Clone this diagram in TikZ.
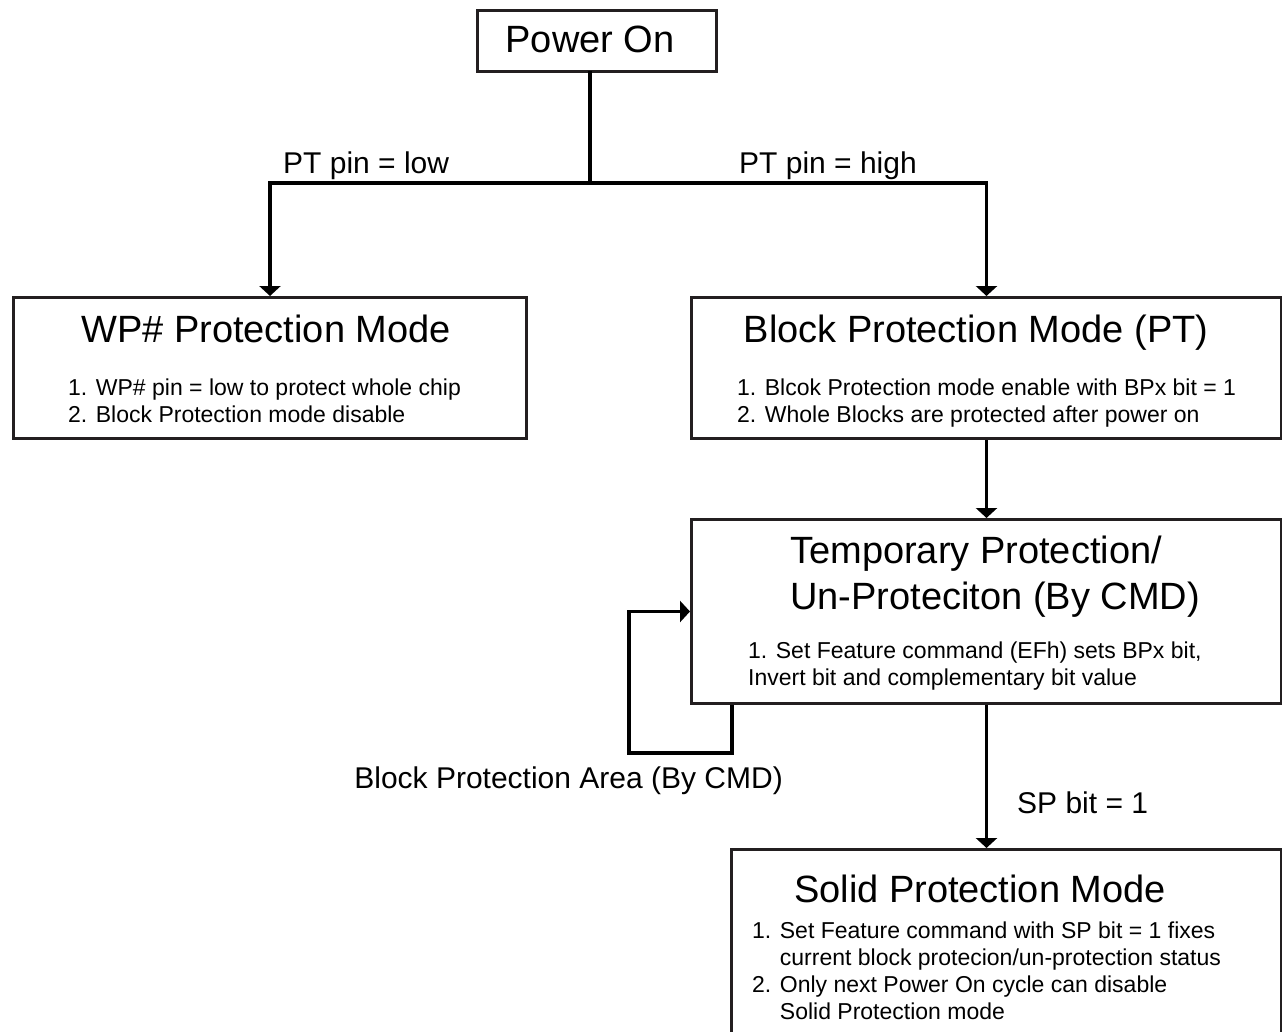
\documentclass[tikz,border=0pt]{standalone}
\usepackage{fontspec}
\setmainfont{Liberation Sans}
\usetikzlibrary{arrows.meta}
\definecolor{boxline}{HTML}{231F20}

\tikzset{
  modebox/.style={draw=boxline, line width=3pt, inner sep=0pt, anchor=north west},
  ttl/.style={font=\fontsize{38}{46}\selectfont, inner sep=0pt},
  body/.style={font=\fontsize{23}{27}\selectfont, inner sep=0pt, align=left, anchor=north west},
  lbl/.style={font=\fontsize{30}{36}\selectfont, inner sep=0pt},
  wire/.style={line width=3.5pt, line cap=rect},
  arr/.style={line width=3.5pt, -{Triangle[width=21pt,length=10pt]}}
}

\begin{document}
\begin{tikzpicture}[x=1pt,y=-1pt]

\useasboundingbox (0,0) rectangle (1282,1031);
\clip (0,0) rectangle (1282,1031);

% Power on
\node[modebox, minimum width=239pt, minimum height=61pt] (pwr) at (476,9) {};
\node[ttl, anchor=base] (pwrtxt) at (590,52) {Power On};

% WP# protection mode
\node[modebox, minimum width=513pt, minimum height=141pt] (wp) at (12,296) {};
\node[ttl, anchor=base] (wptitle) at (266,342) {WP\# Protection Mode};
\node[body] (wpbody) at (68,378.4) {1. WP\# pin = low to protect whole chip\\
2. Block Protection mode disable};

% Block protection mode
\node[modebox, minimum width=590pt, minimum height=141pt] (bp) at (690,296) {};
\node[ttl, anchor=base] (bptitle) at (976,342) {Block Protection Mode (PT)};
\node[body] (bpbody) at (737,378.4) {1. Blcok Protection mode enable with BPx bit = 1\\
2. Whole Blocks are protected after power on};

% Temporary protection
\node[modebox, minimum width=590pt, minimum height=184pt] (tmp) at (690,518) {};
\node[ttl, align=left, anchor=north west] (tmptitle) at (790,535.3) {Temporary Protection/\\
Un-Proteciton (By CMD)};
\node[body] (tmpbody) at (748,641.4) {1. Set Feature command (EFh) sets BPx bit,\\
Invert bit and complementary bit value};

% Solid protection
\node[modebox, minimum width=550pt, minimum height=250pt] (sp) at (730,848) {};
\node[ttl, anchor=base] (sptitle) at (980,902) {Solid Protection Mode};
\node[body] (spbody) at (752,921.4) {1. Set Feature command with SP bit = 1 fixes\\
\hphantom{1. }current block protecion/un-protection status\\
2. Only next Power On cycle can disable\\
\hphantom{2. }Solid Protection mode};

% Branches
\coordinate (split) at ([yshift=-110pt]pwr.south -| 590,0);
\draw[wire] (pwr.south -| split) -- (split);
\draw[arr] (split) -| (wp.north);
\draw[arr] (split) -| (bp.north);
\node[lbl, anchor=base west] (lowlbl) at (283,173) {PT pin = low};
\node[lbl, anchor=base east] (highlbl) at (917,173) {PT pin = high};

\draw[arr] (bp.south) -- (tmp.north);

% Loop back
\coordinate (loopcorner) at (629,753);
\draw[arr] ([xshift=42pt]tmp.south west) |- (loopcorner) |- (tmp.west);
\node[lbl, anchor=base east] (looplbl) at (783,788) {Block Protection Area (By CMD)};

\draw[arr] (tmp.south) -- (tmp.south |- sp.north);
\node[lbl, anchor=base west] (splbl) at (1017,813) {SP bit = 1};

\end{tikzpicture}
\end{document}
